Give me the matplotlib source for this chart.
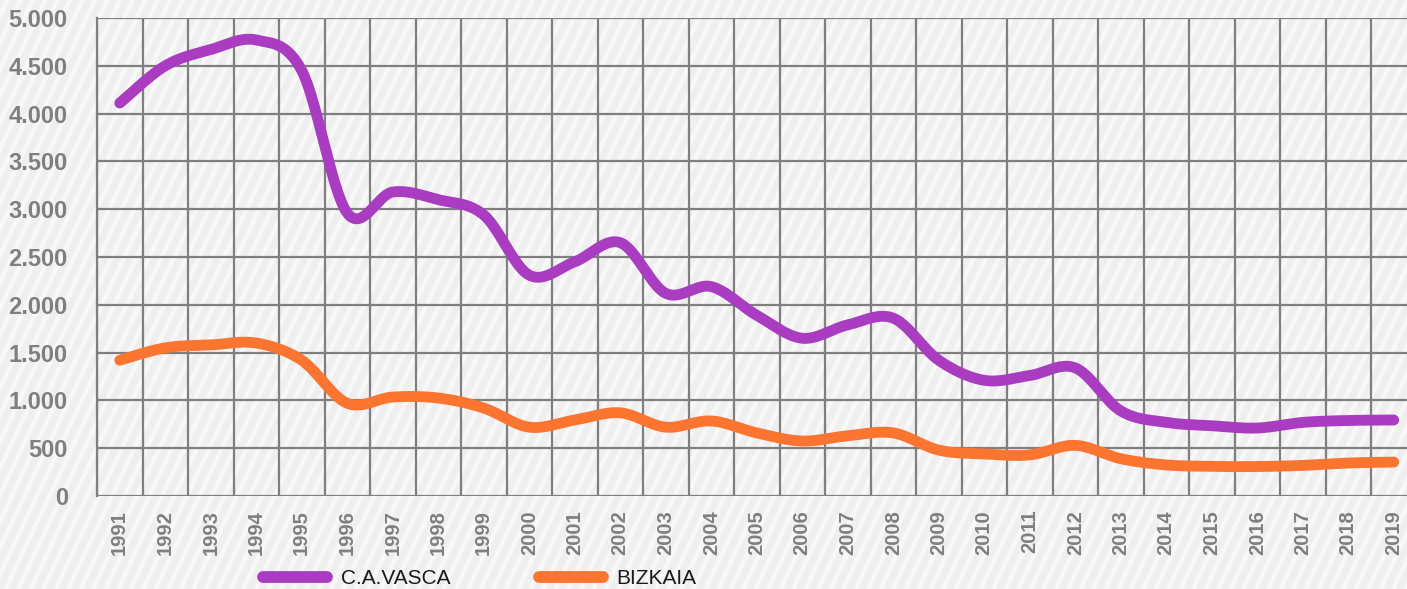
import numpy as np
import matplotlib
matplotlib.use("Agg")
import matplotlib.pyplot as plt
from matplotlib.ticker import FuncFormatter, MultipleLocator
from matplotlib.lines import Line2D
from matplotlib import font_manager

years = [str(y) for y in range(1991, 2020)]
cavasca = [4110, 4500, 4670, 4770, 4450, 2960, 3180, 3100, 2940, 2310,
           2450, 2650, 2120, 2190, 1890, 1650, 1790, 1860, 1420, 1210,
           1260, 1340, 890, 770, 735, 711, 770, 790, 795]
bizkaia = [1420, 1550, 1580, 1600, 1420, 970, 1035, 1025, 920, 720,
           795, 870, 720, 785, 660, 575, 630, 660, 480, 440,
           430, 530, 390, 325, 310, 308, 320, 345, 355]
series_names = ["C.A.VASCA", "BIZKAIA"]
series_colors = ["#A93CC0", "#FB7430"]

W, H, DPI = 1407, 589, 100

def smooth(xs, ys, n=24):
    P = np.column_stack([xs, ys]).astype(float)
    P = np.vstack([P[0], P, P[-1]])
    out = []
    for i in range(1, len(P) - 2):
        p0, p1, p2, p3 = P[i - 1], P[i], P[i + 1], P[i + 2]
        c1 = p1 + (p2 - p0) / 6.0
        c2 = p2 - (p3 - p1) / 6.0
        t = np.linspace(0, 1, n, endpoint=(i == len(P) - 3))[:, None]
        b = ((1 - t) ** 3) * p1 + 3 * ((1 - t) ** 2) * t * c1 + 3 * (1 - t) * t ** 2 * c2 + t ** 3 * p2
        out.append(b)
    out = np.vstack(out)
    return out[:, 0], out[:, 1]

fig = plt.figure(figsize=(W / DPI, H / DPI), dpi=DPI)
fig.patch.set_facecolor("#EFEFEF")

# striped background
bg = fig.add_axes([0, 0, 1, 1], zorder=-5)
bg.set_xlim(0, W)
bg.set_ylim(0, H)
bg.axis("off")
period = 12.5
sw = 5.0
cot = 0.47
for x0 in np.arange(-H * cot - 20, W + 20, period):
    xs = [x0, x0 + sw, x0 + sw + H * cot, x0 + H * cot]
    ys = [0, 0, H, H]
    bg.fill(xs, ys, color="#F8F8F8", lw=0)

left_px, bottom_px, top_px = 97, 496, 18
cat_w = 45.5
ncat = len(years)
ax_w = cat_w * ncat
ax = fig.add_axes([left_px / W, 1 - bottom_px / H, ax_w / W, (bottom_px - top_px) / H])
ax.set_facecolor("none")
ax.set_xlim(-0.5, ncat - 0.5)
ax.set_ylim(0, 5000)

x = np.arange(ncat)
for vals, col in zip([cavasca, bizkaia], series_colors):
    sx, sy = smooth(x, vals)
    ax.plot(sx, sy, color=col, lw=7.8, solid_capstyle="round", solid_joinstyle="round",
            zorder=3, clip_on=False)

ax.yaxis.set_major_locator(MultipleLocator(500))
ax.yaxis.set_major_formatter(FuncFormatter(lambda v, p: f"{int(v):,}".replace(",", ".")))
ax.set_xticks(x)
ax.set_xticklabels(years, rotation=90)
ax.set_xticks(np.arange(-0.5, ncat, 1), minor=True)
ax.grid(True, axis="y", color="#7F7F7F", lw=1.6, zorder=1)
ax.grid(True, axis="x", which="minor", color="#7F7F7F", lw=1.6, zorder=1)
ax.grid(False, axis="x", which="major")
for s in ["top", "right", "bottom"]:
    ax.spines[s].set_visible(False)
ax.spines["left"].set_color("#7F7F7F")
ax.spines["left"].set_linewidth(1.6)
ax.tick_params(axis="both", which="both", length=0)
ax.tick_params(axis="y", pad=21)
ax.tick_params(axis="x", pad=10)
for lab in ax.get_yticklabels():
    lab.set_fontfamily("Liberation Sans")
    lab.set_fontweight("bold")
    lab.set_fontsize(17)
    lab.set_color("#7F7F7F")
for lab in ax.get_xticklabels():
    lab.set_fontfamily("Liberation Sans")
    lab.set_fontweight("bold")
    lab.set_fontsize(14.5)
    lab.set_color("#7F7F7F")
ax.set_axisbelow(True)

# legend
names = {f.name for f in font_manager.fontManager.ttflist}
narrow = "Liberation Sans Narrow" in names
leg_family = ["Liberation Sans Narrow"] if narrow else ["Liberation Sans"]
leg_size = 17 if narrow else 15
handles = [Line2D([], [], color=c, lw=8.5, solid_capstyle="round") for c in series_colors]
leg = fig.legend(handles, series_names, loc="center left",
                 bbox_to_anchor=(263 / W, 1 - 579 / H), ncol=2, frameon=False,
                 handlelength=64 / (leg_size * DPI / 72), handletextpad=14 / (leg_size * DPI / 72),
                 columnspacing=88 / (leg_size * DPI / 72),
                 borderpad=0, borderaxespad=0,
                 prop={"family": leg_family, "size": leg_size})
for t in leg.get_texts():
    t.set_color("#1A1A1A")

fig.savefig("out.png", dpi=DPI)
